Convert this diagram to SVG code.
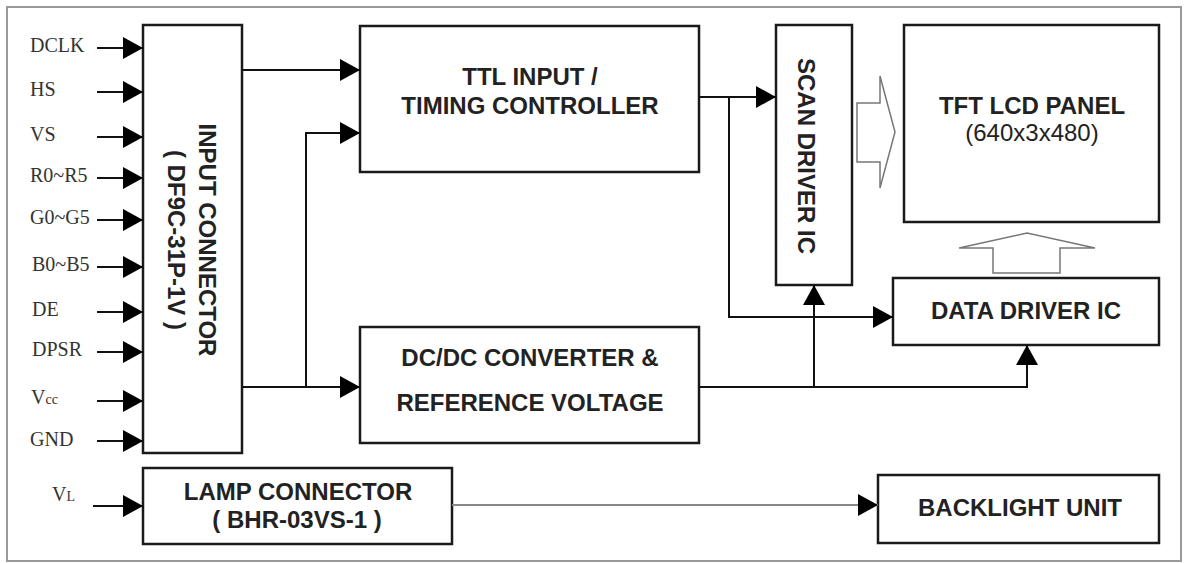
<svg xmlns="http://www.w3.org/2000/svg" width="1184" height="563" viewBox="0 0 1184 563">
<defs>
<style>
.box{fill:#fff;stroke:#1a1a1a;stroke-width:2.5}
.ln{fill:none;stroke:#111;stroke-width:2}
.gl{fill:none;stroke:#888;stroke-width:2}
.hol{fill:#fff;stroke:#777;stroke-width:1.5}
.lbl{font-family:"Liberation Sans",Arial,sans-serif;font-weight:bold;font-size:24px;fill:#222;text-anchor:middle}
.reg{font-family:"Liberation Sans",Arial,sans-serif;font-size:24px;fill:#222;text-anchor:middle}
.sig{font-family:"Liberation Serif","Times New Roman",serif;font-size:20px;fill:#333}
.sub{font-size:14px}
</style>
<marker id="ah" markerUnits="userSpaceOnUse" markerWidth="20" markerHeight="22" refX="20" refY="11" orient="auto">
<path d="M0,0 L20,11 L0,22 z" fill="#000"/>
</marker>
</defs>
<rect width="1184" height="563" fill="#fff"/>
<rect x="7" y="7" width="1174" height="554" fill="none" stroke="#999" stroke-width="2"/>

<g id="signals">
<text class="sig" x="30" y="52">DCLK</text>
<text class="sig" x="30" y="96">HS</text>
<text class="sig" x="30" y="141">VS</text>
<text class="sig" x="30" y="182">R0~R5</text>
<text class="sig" x="30" y="224">G0~G5</text>
<text class="sig" x="32" y="271">B0~B5</text>
<text class="sig" x="32" y="316">DE</text>
<text class="sig" x="32" y="356">DPSR</text>
<text class="sig" x="31" y="404">V<tspan class="sub">cc</tspan></text>
<text class="sig" x="30" y="446">GND</text>
<text class="sig" x="52" y="501">V<tspan class="sub">L</tspan></text>
</g>

<g id="input-connector">
<rect class="box" x="143" y="25" width="99" height="428"/>
<g transform="translate(199,240) rotate(90)">
<text class="lbl" x="0" y="0">INPUT CONNECTOR</text>
<text class="lbl" x="0" y="31">( DF9C-31P-1V )</text>
</g>
</g>

<g id="ttl">
<rect class="box" x="360" y="26" width="339" height="146"/>
<text class="lbl" x="530" y="85">TTL INPUT /</text>
<text class="lbl" x="530" y="114">TIMING CONTROLLER</text>
</g>

<g id="dcdc">
<rect class="box" x="360" y="327" width="339" height="116"/>
<text class="lbl" x="530" y="366">DC/DC CONVERTER &amp;</text>
<text class="lbl" x="530" y="411">REFERENCE VOLTAGE</text>
</g>

<g id="scan">
<rect class="box" x="776" y="25" width="76" height="260"/>
<text class="lbl" transform="translate(798,156) rotate(90)" x="0" y="0">SCAN DRIVER IC</text>
</g>

<g id="tft">
<rect class="box" x="904" y="25" width="255" height="197"/>
<text class="lbl" x="1032" y="114">TFT LCD PANEL</text>
<text class="reg" x="1032" y="141">(640x3x480)</text>
</g>

<g id="data">
<rect class="box" x="893" y="278" width="266" height="67"/>
<text class="lbl" x="1026" y="319">DATA DRIVER IC</text>
</g>

<g id="lamp">
<rect class="box" x="143" y="468" width="309" height="76"/>
<text class="lbl" x="298" y="500">LAMP CONNECTOR</text>
<text class="lbl" x="297" y="528">( BHR-03VS-1 )</text>
</g>

<g id="backlight">
<rect class="box" x="878" y="475" width="281" height="68"/>
<text class="lbl" x="1020" y="516">BACKLIGHT UNIT</text>
</g>

<g id="connectors">
<path class="ln" marker-end="url(#ah)" d="M97,48 H143"/>
<path class="ln" marker-end="url(#ah)" d="M97,92 H143"/>
<path class="ln" marker-end="url(#ah)" d="M97,137 H143"/>
<path class="ln" marker-end="url(#ah)" d="M97,178 H143"/>
<path class="ln" marker-end="url(#ah)" d="M97,220 H143"/>
<path class="ln" marker-end="url(#ah)" d="M97,267 H143"/>
<path class="ln" marker-end="url(#ah)" d="M97,312 H143"/>
<path class="ln" marker-end="url(#ah)" d="M97,352 H143"/>
<path class="ln" marker-end="url(#ah)" d="M97,401 H143"/>
<path class="ln" marker-end="url(#ah)" d="M97,441 H143"/>
<path class="ln" marker-end="url(#ah)" d="M93,506 H143"/>
<path class="ln" marker-end="url(#ah)" d="M242,70 H360"/>
<path class="ln" marker-end="url(#ah)" d="M242,387 H360"/>
<path class="ln" marker-end="url(#ah)" d="M306,387 V133 H360"/>
<path class="ln" stroke-width="2.5" marker-end="url(#ah)" d="M699,97 H776"/>
<path class="ln" marker-end="url(#ah)" d="M729,97 V317 H893"/>
<path class="ln" marker-end="url(#ah)" d="M699,387 H1027 V345"/>
<path class="ln" marker-end="url(#ah)" d="M814,387 V285"/>
<path class="gl" marker-end="url(#ah)" d="M452,505 H878"/>
<polygon class="hol" points="857,103 880,103 880,76 895,132 880,188 880,162 857,162"/>
<polygon class="hol" points="993,273 993,248 959,248 1027,233 1095,248 1060,248 1060,273"/>
</g>
</svg>
